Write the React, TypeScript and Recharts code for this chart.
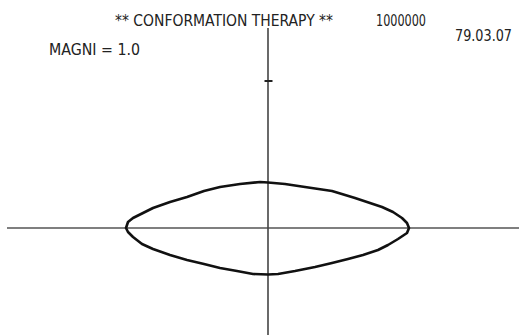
import { LineChart, Line, XAxis, YAxis, ReferenceLine } from 'recharts'

// Outline traced around the origin: upper half left→right, lower half right→left
const upperX = [-14.2, -14.0, -13.5, -12.5, -11.5, -9.8, -8.1, -6.4, -4.8, -2.8, -0.8, 0, 1.7, 3.7, 6.4, 8.7, 10.2, 11.4, 12.5, 13.4, 13.9, 14.1]
const upperY = [0, 0.6, 1.0, 1.5, 2.0, 2.6, 3.1, 3.7, 4.1, 4.4, 4.6, 4.55, 4.4, 4.1, 3.7, 3.0, 2.5, 2.1, 1.6, 1.0, 0.5, 0]
const lowerX = [13.9, 13.0, 12.0, 11.0, 9.5, 8.0, 6.4, 4.7, 2.7, 1.0, 0, -1.5, -3.1, -4.8, -6.4, -8.1, -9.8, -11.5, -12.6, -13.5, -14.0]
const lowerY = [-0.5, -1.1, -1.7, -2.2, -2.7, -3.1, -3.5, -3.9, -4.3, -4.6, -4.65, -4.6, -4.3, -4.0, -3.6, -3.2, -2.7, -2.1, -1.6, -0.9, -0.4]

const xDomain: [number, number] = [-26.8, 25.1]
const yDomain: [number, number] = [-10.7, 22.8]
const axisTop = 20.0
const axisLeft = -26.1
const tickY = 14.7

const outline = [
  ...upperX.map((x, i) => ({ x, y: upperY[i] })),
  ...lowerX.map((x, i) => ({ x, y: lowerY[i] })),
]

const W = 519
const H = 335
const font = '"DejaVu Sans Condensed", "Liberation Sans Narrow", sans-serif'

export default function App() {
  return (
    <div style={{ position: 'absolute', left: 0, top: 0, width: W, height: H, background: '#fff' }}>
      <LineChart width={W} height={H} data={outline} margin={{ top: 0, right: 0, bottom: 0, left: 0 }}>
        <XAxis type="number" dataKey="x" domain={xDomain} hide allowDataOverflow />
        <YAxis type="number" dataKey="y" domain={yDomain} hide allowDataOverflow />
        <ReferenceLine
          segment={[{ x: axisLeft, y: 0 }, { x: xDomain[1], y: 0 }]}
          stroke="#555"
          strokeWidth={1.6}
          ifOverflow="visible"
        />
        <ReferenceLine
          segment={[{ x: 0, y: yDomain[0] }, { x: 0, y: axisTop }]}
          stroke="#444"
          strokeWidth={1.6}
          ifOverflow="visible"
        />
        <ReferenceLine
          segment={[{ x: -0.35, y: tickY }, { x: 0.45, y: tickY }]}
          stroke="#222"
          strokeWidth={2}
          ifOverflow="visible"
        />
        <Line
          type="linearClosed"
          dataKey="y"
          stroke="#111"
          strokeWidth={2.6}
          strokeLinejoin="round"
          dot={false}
          activeDot={false}
          isAnimationActive={false}
        />
      </LineChart>
      <svg width={W} height={H} style={{ position: 'absolute', left: 0, top: 0, pointerEvents: 'none' }}>
        <g fontFamily={font} fontSize={15.5} fill="#222">
          <text x={115} y={26} textLength={218} lengthAdjust="spacingAndGlyphs">** CONFORMATION THERAPY **</text>
          <text x={376} y={26} textLength={50} lengthAdjust="spacingAndGlyphs">1000000</text>
          <text x={455} y={41} textLength={57} lengthAdjust="spacingAndGlyphs">79.03.07</text>
          <text x={49} y={55} textLength={91} lengthAdjust="spacingAndGlyphs">MAGNI = 1.0</text>
        </g>
      </svg>
    </div>
  )
}
